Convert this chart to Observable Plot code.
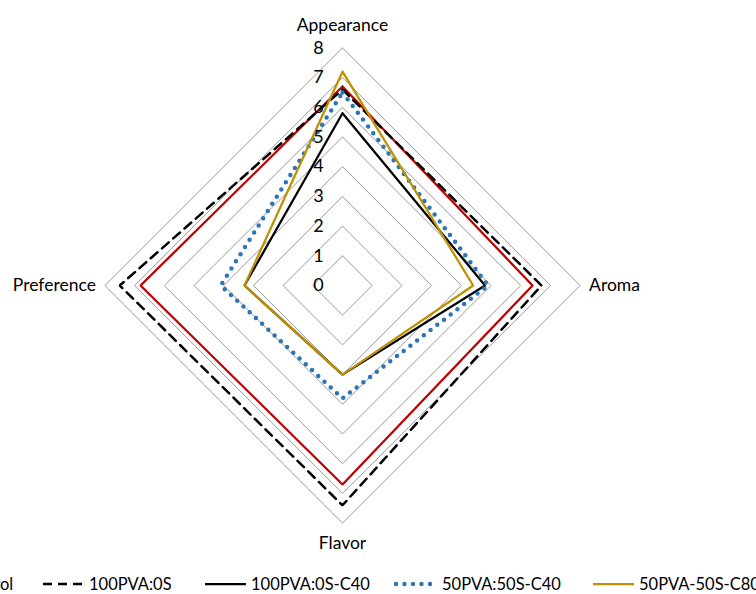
<!DOCTYPE html>
<html>
<head>
<meta charset="utf-8">
<script src="https://cdn.jsdelivr.net/npm/d3@7"></script>
<script src="https://cdn.jsdelivr.net/npm/@observablehq/plot@0.6"></script>
<style>
  html, body { margin: 0; padding: 0; background: #fff; overflow: hidden; }
  #wrap { position: relative; width: 756px; height: 594px; overflow: hidden; font-family: Lato, "Open Sans", sans-serif; }
  #legend { position: absolute; top: 0; left: 0; font-size: 16.5px; color: #000; }
  .item { position: absolute; top: 574px; display: flex; align-items: center; white-space: nowrap; }
  .item svg { margin-right: 2px; }
</style>
</head>
<body>
<div id="wrap"><div id="chart"></div><div id="legend"></div></div>
<script>
const axes = ["Appearance", "Aroma", "Flavor", "Preference"];
const seriesNames = ["Control", "100PVA:0S", "100PVA:0S-C40", "50PVA:50S-C40", "50PVA-50S-C80"];
const control      = [6.7, 6.4, 6.7, 6.8];
const pva100       = [6.6, 6.7, 7.4, 7.5];
const pva100c40    = [5.8, 4.8, 3.0, 3.3];
const pva50c40     = [6.5, 4.9, 3.8, 4.1];
const pva50c80     = [7.2, 4.4, 3.0, 3.3];
const ticks = [0, 1, 2, 3, 4, 5, 6, 7, 8];

const colors = ["#c00000", "#000000", "#000000", "#2e75b6", "#bf9000"];
const styles = [
  {strokeWidth: 2.25},
  {strokeWidth: 2.5, strokeDasharray: "9,6"},
  {strokeWidth: 2.25},
  {strokeWidth: 4.5, strokeDasharray: "0,8.5", strokeLinecap: "round"},
  {strokeWidth: 2.25}
];
const values = [control, pva100, pva100c40, pva50c40, pva50c80];
const legendLeft = [-90, 40, 202, 393, 590];

const angles = axes.map((_, i) => i * Math.PI / 2); // clockwise from top
const px = (v, i) => v * Math.sin(angles[i]);
const py = (v, i) => v * Math.cos(angles[i]);

const grid = [];
ticks.filter(t => t > 0).forEach(t => {
  axes.concat([axes[0]]).forEach((a, k) => {
    const i = k % axes.length;
    grid.push({t, x: px(t, i), y: py(t, i)});
  });
});

const lines = [];
values.forEach((vals, s) => {
  axes.concat([axes[0]]).forEach((a, k) => {
    const i = k % axes.length;
    lines.push({s: seriesNames[s], x: px(vals[i], i), y: py(vals[i], i)});
  });
});

const unit = 29.7, cx = 342, cy = 285, W = 756, H = 594;
const axisLabels = axes.map((a, i) => ({a, x: px(8, i), y: py(8, i)}));

const marks = [
  Plot.line(grid, {x: "x", y: "y", z: "t", stroke: "#9a9a9a", strokeWidth: 1})
];
values.forEach((_, s) => {
  marks.push(Plot.line(lines.filter(d => d.s === seriesNames[s]), {x: "x", y: "y", stroke: colors[s], ...styles[s], strokeLinejoin: "miter"}));
});
marks.push(Plot.text(ticks, {x: 0, y: d => d, text: d => String(d), dx: -24, fontSize: 18, fill: "#000"}));
marks.push(Plot.text([axisLabels[0]], {x: "x", y: "y", text: "a", dy: -23, fontSize: 17.5}));
marks.push(Plot.text([axisLabels[1]], {x: "x", y: "y", text: "a", dx: 9, textAnchor: "start", fontSize: 17.5}));
marks.push(Plot.text([axisLabels[2]], {x: "x", y: "y", text: "a", dy: 20, fontSize: 17.5}));
marks.push(Plot.text([axisLabels[3]], {x: "x", y: "y", text: "a", dx: -9, textAnchor: "end", fontSize: 17.5}));

const chart = Plot.plot({
  width: W, height: H,
  margin: 0,
  style: {fontFamily: "Lato, 'Open Sans', sans-serif", background: "#fff", overflow: "visible"},
  x: {domain: [-cx / unit, (W - cx) / unit], axis: null},
  y: {domain: [-(H - cy) / unit, cy / unit], axis: null},
  marks
});
document.getElementById("chart").appendChild(chart);

const legend = document.getElementById("legend");
seriesNames.forEach((name, s) => {
  const item = document.createElement("div");
  item.className = "item";
  item.style.left = legendLeft[s] + "px";
  const st = styles[s];
  item.innerHTML = `<svg width="47" height="10"><line x1="3" x2="44" y1="5" y2="5" stroke="${colors[s]}" stroke-width="${st.strokeWidth}" ${st.strokeDasharray ? `stroke-dasharray="${st.strokeDasharray}"` : ""} ${st.strokeLinecap ? `stroke-linecap="${st.strokeLinecap}"` : ""}/></svg><span>${name}</span>`;
  legend.appendChild(item);
});
</script>
</body>
</html>
